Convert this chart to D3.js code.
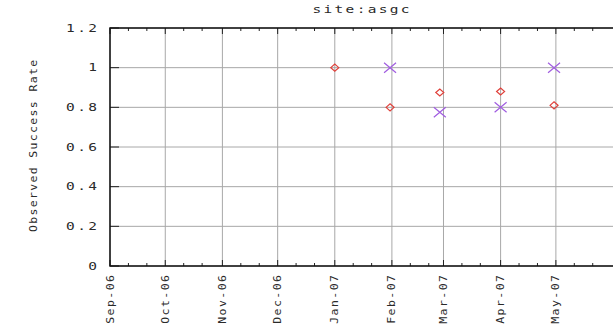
<!DOCTYPE html>
<html>
<head>
<meta charset="utf-8">
<script src="https://cdn.jsdelivr.net/npm/d3@7"></script>
<style>
  body { margin: 0; background: #fff; }
  text { font-family: "DejaVu Sans Mono", monospace; font-size: 10px; fill: #2a2a2a; }
</style>
</head>
<body>
<div id="chart"></div>
<script>
// diamonds (red)
const diamondDates = ["2007-01-01", "2007-01-31", "2007-02-27", "2007-04-01", "2007-04-30"];
const diamondValues = [1.0, 0.8, 0.875, 0.88, 0.81];

// crosses (purple)
const crossDates = ["2007-01-31", "2007-02-27", "2007-04-01", "2007-04-30"];
const crossValues = [1.0, 0.775, 0.8, 1.0];

const yTicks = [0, 0.2, 0.4, 0.6, 0.8, 1, 1.2];
const monthTicks = ["2006-09-01", "2006-10-01", "2006-11-01", "2006-12-01", "2007-01-01",
  "2007-02-01", "2007-03-01", "2007-04-01", "2007-05-01"];

const width = 614, height = 336;
const margin = { top: 28, right: 1, bottom: 70, left: 110 };

const parse = d3.utcParse("%Y-%m-%d");
const fmt = d3.utcFormat("%b-%y");

const svg = d3.select("#chart").append("svg")
  .attr("width", width)
  .attr("height", height);

const x = d3.scaleUtc()
  .domain([parse("2006-09-01"), parse("2007-06-01")])
  .range([margin.left, width - margin.right]);

const y = d3.scaleLinear()
  .domain([0, 1.2])
  .range([height - margin.bottom, margin.top]);

const plotTop = margin.top, plotBottom = height - margin.bottom;
const plotLeft = margin.left, plotRight = width - margin.right;

// the original uses a wide bitmap font: stretch glyphs sideways and fit to measured width
function wideText(sel, sx, perChar, trim) {
  sel.each(function() {
    const n = this.textContent.length;
    const t = d3.select(this);
    t.attr("transform", (t.attr("transform") || "") + ` scale(${sx},1)`);
    if (n > 1) t.attr("textLength", (perChar * n - trim) / sx).attr("lengthAdjust", "spacing");
  });
}

// grid
svg.append("g").selectAll("line")
  .data(monthTicks.map(parse))
  .join("line")
  .attr("x1", d => x(d)).attr("x2", d => x(d))
  .attr("y1", plotTop).attr("y2", plotBottom)
  .attr("stroke", "#a8a8a8");

svg.append("g").selectAll("line")
  .data(yTicks)
  .join("line")
  .attr("x1", plotLeft).attr("x2", plotRight)
  .attr("y1", d => y(d)).attr("y2", d => y(d))
  .attr("stroke", "#a8a8a8");

// minor ticks (10th, 20th of month) top and bottom
const minor = [];
monthTicks.concat(["2007-06-01"]).forEach(m => {
  const d = parse(m);
  [10, 20].forEach(k => minor.push(d3.utcDay.offset(d, k)));
});
const minorIn = minor.filter(d => x(d) < plotRight);
const minorG = svg.append("g").attr("stroke", "#222");
minorG.selectAll(".mb").data(minorIn).join("line").attr("class", "mb")
  .attr("x1", d => x(d)).attr("x2", d => x(d))
  .attr("y1", plotBottom).attr("y2", plotBottom - 3);
minorG.selectAll(".mt").data(minorIn).join("line").attr("class", "mt")
  .attr("x1", d => x(d)).attr("x2", d => x(d))
  .attr("y1", plotTop).attr("y2", plotTop + 3);

// major ticks
const majG = svg.append("g").attr("stroke", "#222");
majG.selectAll(".jb").data(monthTicks.map(parse)).join("line").attr("class", "jb")
  .attr("x1", d => x(d)).attr("x2", d => x(d))
  .attr("y1", plotBottom).attr("y2", plotBottom - 6);
majG.selectAll(".jt").data(monthTicks.map(parse)).join("line").attr("class", "jt")
  .attr("x1", d => x(d)).attr("x2", d => x(d))
  .attr("y1", plotTop).attr("y2", plotTop + 6);
majG.selectAll(".yl").data(yTicks).join("line").attr("class", "yl")
  .attr("x1", plotLeft).attr("x2", plotLeft + 9)
  .attr("y1", d => y(d)).attr("y2", d => y(d));

// frame
svg.append("path")
  .attr("d", `M${plotRight},${plotTop}H${plotLeft}V${plotBottom}H${plotRight}`)
  .attr("fill", "none").attr("stroke", "#111").attr("stroke-width", 1.5);

// y tick labels
svg.append("g").selectAll("text")
  .data(yTicks)
  .join("text")
  .attr("transform", d => `translate(${plotLeft - 13},${y(d)})`)
  .attr("dy", "0.35em")
  .attr("text-anchor", "end")
  .attr("font-size", 10)
  .text(d => d3.format("")(d))
  .call(wideText, 1.45, 11, 2);

// x tick labels
svg.append("g").selectAll("text")
  .data(monthTicks.map(parse))
  .join("text")
  .attr("transform", d => `translate(${x(d)},${plotBottom + 9}) rotate(-90)`)
  .attr("dy", "0.35em")
  .attr("text-anchor", "end")
  .attr("font-size", 11)
  .text(d => fmt(d))
  .call(wideText, 1.15, 8.3, 1);

// title and axis label
svg.append("text")
  .attr("transform", "translate(361,13)")
  .attr("text-anchor", "middle")
  .attr("font-size", 11)
  .text("site:asgc")
  .call(wideText, 1.45, 10.9, 1);

svg.append("text")
  .attr("transform", "translate(33,146) rotate(-90)")
  .attr("text-anchor", "middle")
  .attr("dy", "0.35em")
  .attr("font-size", 11)
  .text("Observed Success Rate")
  .call(wideText, 1.15, 8.2, 0);

// diamonds
svg.append("g").selectAll("path")
  .data(diamondDates.map((d, i) => [parse(d), diamondValues[i]]))
  .join("path")
  .attr("d", d => `M${x(d[0]) - 4},${y(d[1])}L${x(d[0])},${y(d[1]) - 3.5}L${x(d[0]) + 4},${y(d[1])}L${x(d[0])},${y(d[1]) + 3.5}Z`)
  .attr("fill", "none")
  .attr("stroke", "#e0403a")
  .attr("stroke-width", 1.2);

// crosses
svg.append("g").selectAll("path")
  .data(crossDates.map((d, i) => [parse(d), crossValues[i]]))
  .join("path")
  .attr("d", d => `M${x(d[0]) - 6},${y(d[1]) - 5}L${x(d[0]) + 6},${y(d[1]) + 5}M${x(d[0]) - 6},${y(d[1]) + 5}L${x(d[0]) + 6},${y(d[1]) - 5}`)
  .attr("fill", "none")
  .attr("stroke", "#a05ce0")
  .attr("stroke-width", 1.2);
</script>
</body>
</html>
